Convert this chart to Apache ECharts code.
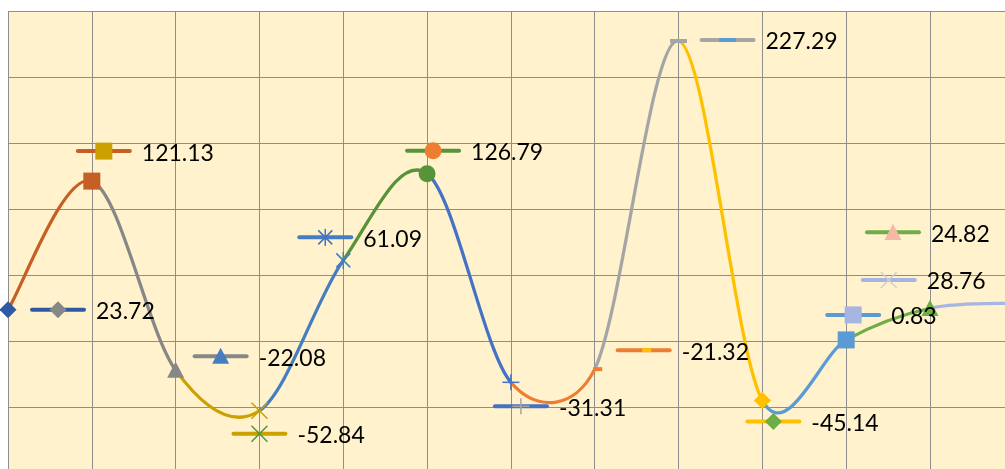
<!DOCTYPE html>
<html>
<head>
<meta charset="utf-8">
<script src="https://cdn.jsdelivr.net/npm/echarts@6/dist/echarts.min.js"></script>
<style>
  html, body { margin: 0; padding: 0; background: #ffffff; }
  #chart { width: 1005px; height: 469px; }
</style>
</head>
<body>
<div id="chart"></div>
<script>
// ---- data ----
const categories = ['1', '2', '3', '4', '5', '6', '7', '8', '9', '10', '11', '12', '13'];
const values = [23.72, 121.13, -22.08, -52.84, 61.09, 126.79, -31.31, -21.32, 227.29, -45.14, 0.83, 24.82, 28.76];
const yMin = -100;
const yMax = 250;
const yStep = 50;

// ---- styling ----
// point colours vary by point; segment k ends at point k and takes its colour
const palette = ['#2F5AA3', '#C65F24', '#878787', '#CCA000', '#457DC1', '#579339',
                 '#4472C4', '#ED7D31', '#A5A5A5', '#FFC000', '#5B9BD5', '#70AD47',
                 '#A6B5E1', '#F3B9A6', '#CFCFCF'];
const markerTypes = ['diamond', 'square', 'triangle', 'x', 'star', 'circle', 'plus',
                     'dot', 'dash', 'diamond', 'square', 'triangle', 'x'];
// label placement: offset of the legend-key centre from its point, in pixels
const labelOffsets = [[50, 0], [12, -30], [45, -14], [0, 23], [-18, -23], [6, -23], [10, 24],
                      [49, -19], [49, -1], [11, 21], [7, -25], [-37, -76], [-125, -23]];

const FONT = '23px Lato, "Open Sans", sans-serif';

function markerShape(type, x, y, color) {
  const s = 8.5;
  const thin = { stroke: color, lineWidth: 1.5 };
  const line = (x1, y1, x2, y2) => ({ type: 'line', shape: { x1, y1, x2, y2 }, style: thin });
  switch (type) {
    case 'diamond':
      return [{ type: 'polygon', shape: { points: [[x, y - s], [x + s, y], [x, y + s], [x - s, y]] }, style: { fill: color } }];
    case 'square':
      return [{ type: 'rect', shape: { x: x - s, y: y - s, width: 2 * s, height: 2 * s }, style: { fill: color } }];
    case 'triangle':
      return [{ type: 'polygon', shape: { points: [[x, y - s], [x + s, y + s * 0.9], [x - s, y + s * 0.9]] }, style: { fill: color } }];
    case 'circle':
      return [{ type: 'circle', shape: { cx: x, cy: y, r: s }, style: { fill: color } }];
    case 'x':
      return [line(x - 8, y - 8, x + 8, y + 8), line(x - 8, y + 8, x + 8, y - 8)];
    case 'star':
      return [line(x - 7, y - 7, x + 7, y + 7), line(x - 7, y + 7, x + 7, y - 7), line(x, y - 8.5, x, y + 8.5)];
    case 'plus':
      return [line(x - 8.5, y, x + 8.5, y), line(x, y - 8, x, y + 8)];
    case 'dot':
      return [{ type: 'rect', shape: { x: x - 1.5, y: y - 2, width: 9, height: 4 }, style: { fill: color } }];
    case 'dash':
      return [{ type: 'rect', shape: { x: x - s, y: y - 2, width: 2 * s, height: 4 }, style: { fill: color } }];
  }
  return [];
}

// Bezier control points for a smoothed segment p1->p2 (neighbours p0, p3),
// tangents of 1/6 of the neighbour chord, limited to half the segment length
function controlPoints(pts, i) {
  const p0 = pts[Math.max(i - 1, 0)];
  const p1 = pts[i];
  const p2 = pts[i + 1];
  const p3 = pts[Math.min(i + 2, pts.length - 1)];
  const dist = (a, b) => Math.hypot(b[0] - a[0], b[1] - a[1]);
  const d02 = dist(p0, p2), d12 = dist(p1, p2), d13 = dist(p1, p3);
  const half = d12 / 2;
  const big0 = d02 / 6 >= half, big1 = d13 / 6 >= half;
  let f0 = 1 / 6, f1 = 1 / 6;
  if (big0 && !big1) { f0 = f1 = half / d02; }
  else if (!big0 && big1) { f0 = f1 = half / d13; }
  else if (big0 && big1) { f0 = half / d02; f1 = half / d13; }
  return [
    [p1[0] + (p2[0] - p0[0]) * f0, p1[1] + (p2[1] - p0[1]) * f0],
    [p2[0] - (p3[0] - p1[0]) * f1, p2[1] - (p3[1] - p1[1]) * f1]
  ];
}

const points = values.map((v, i) => [i, v]);

const chart = echarts.init(document.getElementById('chart'), null, { renderer: 'canvas' });

chart.setOption({
  backgroundColor: '#ffffff',
  animation: false,
  grid: {
    left: 8, top: 11, width: 1005.8, height: 462,
    outerBoundsMode: 'none',
    containLabel: false,
    show: true, backgroundColor: '#FFF2CC', borderWidth: 0
  },
  xAxis: {
    type: 'category',
    data: categories,
    boundaryGap: false,
    axisLine: { show: false },
    axisTick: { show: false },
    axisLabel: { show: false },
    splitLine: { show: true, interval: 0, lineStyle: { color: '#8E8E8E', width: 1 } }
  },
  yAxis: {
    type: 'value',
    min: yMin, max: yMax, interval: yStep,
    axisLine: { show: false },
    axisTick: { show: false },
    axisLabel: { show: false },
    splitLine: { show: true, lineStyle: { color: '#8E8E8E', width: 1 } }
  },
  series: [
    {
      // smoothed line, one coloured Bezier per segment
      type: 'custom',
      name: 'curve',
      z: 2,
      data: points.slice(0, -1),
      renderItem: function (params, api) {
        const i = params.dataIndex;
        const pts = values.map((v, j) => api.coord([j, v]));
        const cp = controlPoints(pts, i);
        return {
          type: 'bezierCurve',
          shape: {
            x1: pts[i][0], y1: pts[i][1],
            cpx1: cp[0][0], cpy1: cp[0][1],
            cpx2: cp[1][0], cpy2: cp[1][1],
            x2: pts[i + 1][0], y2: pts[i + 1][1]
          },
          style: { stroke: palette[i + 1], lineWidth: 3.25, fill: null, lineCap: 'round' }
        };
      }
    },
    {
      // point markers
      type: 'custom',
      name: 'markers',
      z: 3,
      data: points,
      renderItem: function (params, api) {
        const i = params.dataIndex;
        const c = api.coord([api.value(0), api.value(1)]);
        return { type: 'group', children: markerShape(markerTypes[i], c[0], c[1], palette[i]) };
      }
    },
    {
      // value labels with legend keys
      type: 'custom',
      name: 'labels',
      z: 4,
      data: points,
      renderItem: function (params, api) {
        const i = params.dataIndex;
        const v = api.value(1);
        const c = api.coord([api.value(0), v]);
        const kx = c[0] + labelOffsets[i][0];
        const ky = c[1] + labelOffsets[i][1];
        const children = [
          { type: 'line', shape: { x1: kx - 26, y1: ky, x2: kx + 26, y2: ky },
            style: { stroke: palette[i], lineWidth: 4, lineCap: 'round' } }
        ].concat(markerShape(markerTypes[i], kx, ky, palette[i + 2]));
        children.push({
          type: 'text',
          style: { text: v.toFixed(2), x: kx + 38, y: ky + 2, fill: '#000000', font: FONT,
                   align: 'left', verticalAlign: 'middle' }
        });
        return { type: 'group', children: children };
      }
    }
  ]
});
</script>
</body>
</html>
